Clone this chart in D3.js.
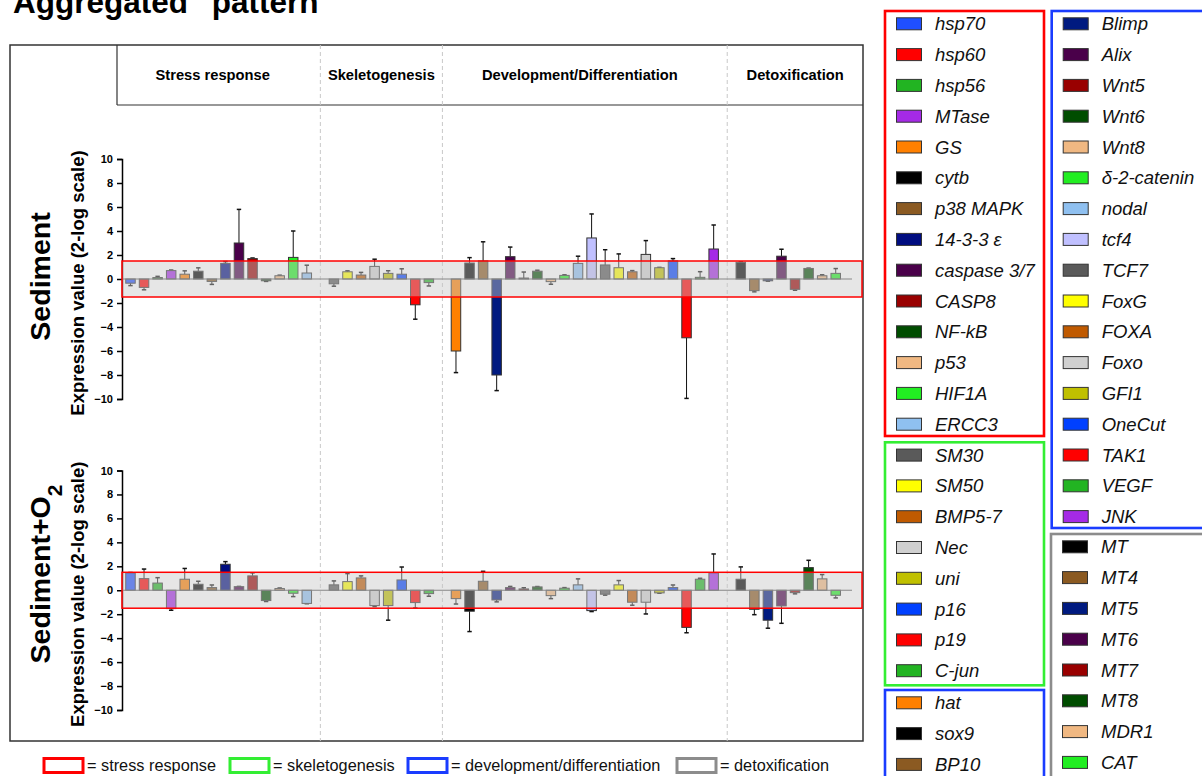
<!DOCTYPE html>
<html>
<head>
<meta charset="utf-8">
<script src="https://cdn.jsdelivr.net/npm/d3@7"></script>
<style>
    body { margin: 0; background: #fff; }
    text { font-family: Arial, "Liberation Sans", sans-serif; }
</style>
</head>
<body>
<script>
(function () {

//data: gene groups, names, colours and the two panels of log2 values (+ error)
    var groupNames = ["Stress response", "Skeletogenesis", "Development/Differentiation", "Detoxification"];
    var groupKeys = ["stress response", "skeletogenesis", "development/differentiation", "detoxification"];
    var groupColors = ["#ff0000", "#33ee33", "#1a3cff", "#8c8c8c"];
    var groupSizes = [14, 8, 20, 8];

    var genes = [
        "hsp70", "hsp60", "hsp56", "MTase", "GS", "cytb", "p38 MAPK", "14-3-3 \u03b5", "caspase 3/7", "CASP8", "NF-kB", "p53", "HIF1A", "ERCC3",
        "SM30", "SM50", "BMP5-7", "Nec", "uni", "p16", "p19", "C-jun",
        "hat", "sox9", "BP10", "Blimp", "Alix", "Wnt5", "Wnt6", "Wnt8", "\u03b4-2-catenin", "nodal", "tcf4", "TCF7", "FoxG", "FOXA", "Foxo", "GFI1", "OneCut", "TAK1", "VEGF", "JNK",
        "MT", "MT4", "MT5", "MT6", "MT7", "MT8", "MDR1", "CAT"
    ];
    var geneColors = [
        "#1f4fff", "#ff0000", "#22b422", "#a52ae6", "#ff8000", "#000000", "#8b5a22", "#000d80", "#4a004a", "#990000", "#004d00", "#f0b882", "#22ee22", "#8fc0f0",
        "#5a5a5a", "#ffff00", "#c05a00", "#d0d0d0", "#c0c000", "#0040ff", "#ff0000", "#22b422",
        "#ff8000", "#000000", "#8b5a22", "#001a80", "#4a004a", "#990000", "#004d00", "#f0b882", "#22ee22", "#8fc0f0", "#c0c0ff", "#5a5a5a", "#ffff00", "#c05a00", "#d0d0d0", "#c0c000", "#0040ff", "#ff0000", "#22b422", "#a52ae6",
        "#000000", "#8b5a22", "#001a80", "#4a004a", "#990000", "#004d00", "#f0b882", "#22ee22"
    ];

    var sedimentVal = [
        -0.35, -0.7, 0.12, 0.7, 0.4, 0.65, -0.2, 1.3, 3.0, 1.7, -0.15, 0.27, 1.8, 0.5,
        -0.4, 0.6, 0.33, 1.05, 0.47, 0.4, -2.15, -0.3,
        -6.0, 1.33, 1.5, -8.0, 1.86, 0.08, 0.65, -0.22, 0.3, 1.3, 3.42, 1.17, 0.94, 0.6, 2.05, 0.94, 1.5, -4.9, 0.14, 2.5,
        1.39, -0.97, -0.15, 1.9, -0.86, 0.88, 0.27, 0.47
    ];
    var sedimentErr = [
        0.2, 0.2, 0.1, 0.05, 0.28, 0.28, 0.25, 0.15, 2.8, 0.05, 0.05, 0.05, 2.2, 0.65,
        0.2, 0.08, 0.22, 0.6, 0.22, 0.45, 1.2, 0.28,
        1.8, 0.45, 1.6, 1.3, 0.8, 0.5, 0.08, 0.22, 0.05, 0.6, 2.0, 1.27, 1.15, 0.1, 1.15, 0.03, 0.2, 5.05, 0.47, 2.0,
        0.05, 0.1, 0.03, 0.58, 0.08, 0.03, 0.08, 0.4
    ];
    var oxygenVal = [
        1.45, 0.97, 0.6, -1.53, 0.92, 0.5, 0.22, 2.17, 0.3, 1.2, -0.86, 0.14, -0.25, -1.1,
        0.45, 0.72, 1.03, -1.28, -1.28, 0.86, -1.03, -0.28,
        -0.7, -1.75, 0.75, -0.81, 0.22, 0.11, 0.28, -0.45, 0.17, 0.45, -1.7, -0.33, 0.45, -1.0, -1.0, -0.22, 0.22, -3.1, 0.92, 1.45,
        0.92, -1.59, -2.5, -1.31, -0.2, 1.89, 0.95, -0.42
    ];
    var oxygenErr = [
        0.03, 0.8, 0.45, 0.14, 0.9, 0.25, 0.22, 0.22, 0.02, 0.25, 0.08, 0.05, 0.28, 0.03,
        0.33, 0.67, 0.17, 0.08, 1.22, 1.08, 0.45, 0.22,
        0.45, 1.7, 0.83, 0.16, 0.1, 0.1, 0.03, 0.25, 0.05, 0.5, 0.08, 0.08, 0.36, 0.25, 0.98, 0.03, 0.22, 0.45, 0.08, 1.58,
        1.03, 0.45, 0.67, 1.45, 0.1, 0.61, 0.36, 0.22
    ];

    var yTicks = [-10, -8, -6, -4, -2, 0, 2, 4, 6, 8, 10];
    var bandLimit = 1.5;  //+/- 2-log unit band

//layout
    var width = 1202, height = 776;
    var frameLeft = 10, frameRight = 863, frameTop = 45, frameBottom = 741;
    var headerLeft = 117, headerBottom = 105;
    var axisX = 122;

    var svg = d3.select("body")
        .append("svg")
        .attr("width", width)
        .attr("height", height);

    svg.append("rect").attr("width", width).attr("height", height).attr("fill", "#fff");

    //title (cut off at the top like the source)
    svg.append("text")
        .attr("x", 13)
        .attr("y", 13)
        .attr("font-size", 31.5)
        .attr("font-weight", "bold")
        .text("Aggregated\" pattern");

    //build slot list with one empty slot between groups
    var slots = [], gi = 0;
    groupSizes.forEach(function (n, g) {
        if (g > 0) slots.push("gap" + g);
        for (var k = 0; k < n; k++) {
            slots.push(genes[gi]);
            gi++;
        }
    });

    var x = d3.scaleBand()
        .domain(slots)
        .range([123.7, 842.5])
        .paddingInner(0.3)
        .paddingOuter(0.15);

    function slotCenter(key) { return x(key) + x.bandwidth() / 2; }

    //frame + header
    svg.append("rect")
        .attr("x", frameLeft).attr("y", frameTop)
        .attr("width", frameRight - frameLeft).attr("height", frameBottom - frameTop)
        .attr("fill", "none").attr("stroke", "#333").attr("stroke-width", 1.5);

    svg.append("line")
        .attr("x1", headerLeft).attr("x2", headerLeft)
        .attr("y1", frameTop).attr("y2", headerBottom)
        .attr("stroke", "#333").attr("stroke-width", 1.2);
    svg.append("line")
        .attr("x1", headerLeft).attr("x2", frameRight)
        .attr("y1", headerBottom).attr("y2", headerBottom)
        .attr("stroke", "#333").attr("stroke-width", 1.2);

    //group separators (dashed) at the gap slots
    var sepX = [1, 2, 3].map(function (g) { return slotCenter("gap" + g); });
    svg.selectAll(".sep")
        .data(sepX)
        .enter()
        .append("line")
        .attr("class", "sep")
        .attr("x1", function (d) { return d; })
        .attr("x2", function (d) { return d; })
        .attr("y1", frameTop).attr("y2", frameBottom)
        .attr("stroke", "#c8c8c8")
        .attr("stroke-width", 1)
        .attr("stroke-dasharray", "4,3");

    var bounds = [headerLeft].concat(sepX).concat([frameRight]);
    var labelShift = [-6, 0, -5, 0];
    svg.selectAll(".groupLabel")
        .data(groupNames)
        .enter()
        .append("text")
        .attr("class", "groupLabel")
        .attr("x", function (d, i) { return (bounds[i] + bounds[i + 1]) / 2 + labelShift[i]; })
        .attr("y", 80)
        .attr("text-anchor", "middle")
        .attr("font-size", 14.7)
        .attr("font-weight", "bold")
        .text(function (d) { return d; });

    var panels = [
        { label: "Sediment", sub: null, labelY: 276.5, values: sedimentVal, errs: sedimentErr, range: [399, 159] },
        { label: "Sediment+O", sub: "2", labelY: 574, values: oxygenVal, errs: oxygenErr, range: [710, 470.5] }
    ];

    panels.forEach(function (p) {
        var y = d3.scaleLinear().domain([-10, 10]).range(p.range);
        var g = svg.append("g");
        var mid = y(0);

        //row label
        var lab = g.append("text")
            .attr("transform", "translate(50," + p.labelY + ") rotate(-90)")
            .attr("text-anchor", "middle")
            .attr("font-size", 28.5)
            .attr("font-weight", "bold")
            .text(p.label);
        if (p.sub) {
            lab.append("tspan")
                .attr("baseline-shift", "sub")
                .attr("font-size", 21)
                .text(p.sub);
        }

        g.append("text")
            .attr("transform", "translate(84," + (mid + 4) + ") rotate(-90)")
            .attr("text-anchor", "middle")
            .attr("font-size", 18.5)
            .attr("font-weight", "bold")
            .text("Expression value (2-log scale)");

        //axis
        var axis = g.append("g")
            .attr("transform", "translate(" + axisX + ",0)")
            .call(d3.axisLeft(y).tickValues(yTicks).tickSize(5).tickPadding(4).tickFormat(d3.format("d")));
        axis.select(".domain").attr("stroke", "#000").attr("stroke-width", 1.5);
        axis.selectAll(".tick line").attr("stroke", "#000").attr("stroke-width", 1.5);
        axis.selectAll(".tick text")
            .attr("font-family", "Arial, 'Liberation Sans', sans-serif")
            .attr("font-size", 11)
            .attr("font-weight", "bold")
            .attr("fill", "#000");

        //error bars (drawn away from zero)
        var eb = g.selectAll(".err")
            .data(genes)
            .enter()
            .append("g")
            .attr("class", "err");
        eb.append("line")
            .attr("x1", function (d) { return slotCenter(d); })
            .attr("x2", function (d) { return slotCenter(d); })
            .attr("y1", function (d, i) { return y(p.values[i]); })
            .attr("y2", function (d, i) { return y(p.values[i] + Math.sign(p.values[i]) * p.errs[i]); })
            .attr("stroke", "#111").attr("stroke-width", 1);
        eb.append("line")
            .attr("x1", function (d) { return slotCenter(d) - 2.2; })
            .attr("x2", function (d) { return slotCenter(d) + 2.2; })
            .attr("y1", function (d, i) { return y(p.values[i] + Math.sign(p.values[i]) * p.errs[i]); })
            .attr("y2", function (d, i) { return y(p.values[i] + Math.sign(p.values[i]) * p.errs[i]); })
            .attr("stroke", "#111").attr("stroke-width", 1.5);

        //bars
        g.selectAll(".bar")
            .data(genes)
            .enter()
            .append("rect")
            .attr("class", "bar")
            .attr("x", function (d) { return x(d); })
            .attr("width", x.bandwidth())
            .attr("y", function (d, i) { return Math.min(y(p.values[i]), mid); })
            .attr("height", function (d, i) { return Math.abs(y(p.values[i]) - mid); })
            .attr("fill", function (d, i) { return geneColors[i]; })
            .attr("stroke", "#333")
            .attr("stroke-width", 1);

        //zero line
        g.append("line")
            .attr("x1", axisX).attr("x2", 852)
            .attr("y1", mid).attr("y2", mid)
            .attr("stroke", "#555").attr("stroke-width", 1.2);

        //translucent +/-1.5 band over the bars
        g.append("rect")
            .attr("x", axisX)
            .attr("y", y(bandLimit))
            .attr("width", 862 - axisX)
            .attr("height", y(-bandLimit) - y(bandLimit))
            .attr("fill", "rgb(200,200,200)")
            .attr("fill-opacity", 0.45)
            .attr("stroke", "#ff0000")
            .attr("stroke-width", 1.5);
    });

    //right-hand gene legends
    var legendBoxes = [
        { from: 0, to: 14, x: 885, y: 11, w: 159, h: 425, color: groupColors[0] },
        { from: 14, to: 22, x: 885, y: 442.3, w: 159, h: 243, color: groupColors[1] },
        { from: 22, to: 25, x: 885, y: 690, w: 159, h: 100, color: groupColors[2] },
        { from: 25, to: 42, x: 1051.7, y: 11, w: 170, h: 517, color: groupColors[2] },
        { from: 42, to: 50, x: 1051, y: 534, w: 170, h: 260, color: groupColors[3] }
    ];
    var rowStep = 30.8;

    legendBoxes.forEach(function (b) {
        var lg = svg.append("g");
        lg.append("rect")
            .attr("x", b.x).attr("y", b.y)
            .attr("width", b.w).attr("height", b.h)
            .attr("fill", "none")
            .attr("stroke", b.color)
            .attr("stroke-width", 2.6);
        var items = d3.range(b.from, b.to);
        var rows = lg.selectAll(".item")
            .data(items)
            .enter()
            .append("g")
            .attr("transform", function (d, i) { return "translate(0," + (b.y + 12.8 + i * rowStep) + ")"; });
        rows.append("rect")
            .attr("x", b.x + 11.5).attr("y", -6)
            .attr("width", 25).attr("height", 12)
            .attr("fill", function (d) { return geneColors[d]; })
            .attr("stroke", "#333").attr("stroke-width", 1);
        rows.append("text")
            .attr("x", b.x + 50)
            .attr("y", 6.5)
            .attr("font-size", 18.5)
            .attr("font-style", "italic")
            .attr("fill", "#111")
            .text(function (d) { return genes[d]; });
    });

    //bottom key for the boxes
    var keyX = [44, 230, 408, 677];
    var key = svg.selectAll(".key")
        .data(groupKeys)
        .enter()
        .append("g")
        .attr("transform", function (d, i) { return "translate(" + keyX[i] + ",758.5)"; });
    key.append("rect")
        .attr("width", 39).attr("height", 14)
        .attr("fill", "#fff")
        .attr("stroke", function (d, i) { return groupColors[i]; })
        .attr("stroke-width", 3);
    key.append("text")
        .attr("x", 43)
        .attr("y", 12.5)
        .attr("font-size", 16.3)
        .attr("fill", "#111")
        .text(function (d) { return "= " + d; });

})();
</script>
</body>
</html>
